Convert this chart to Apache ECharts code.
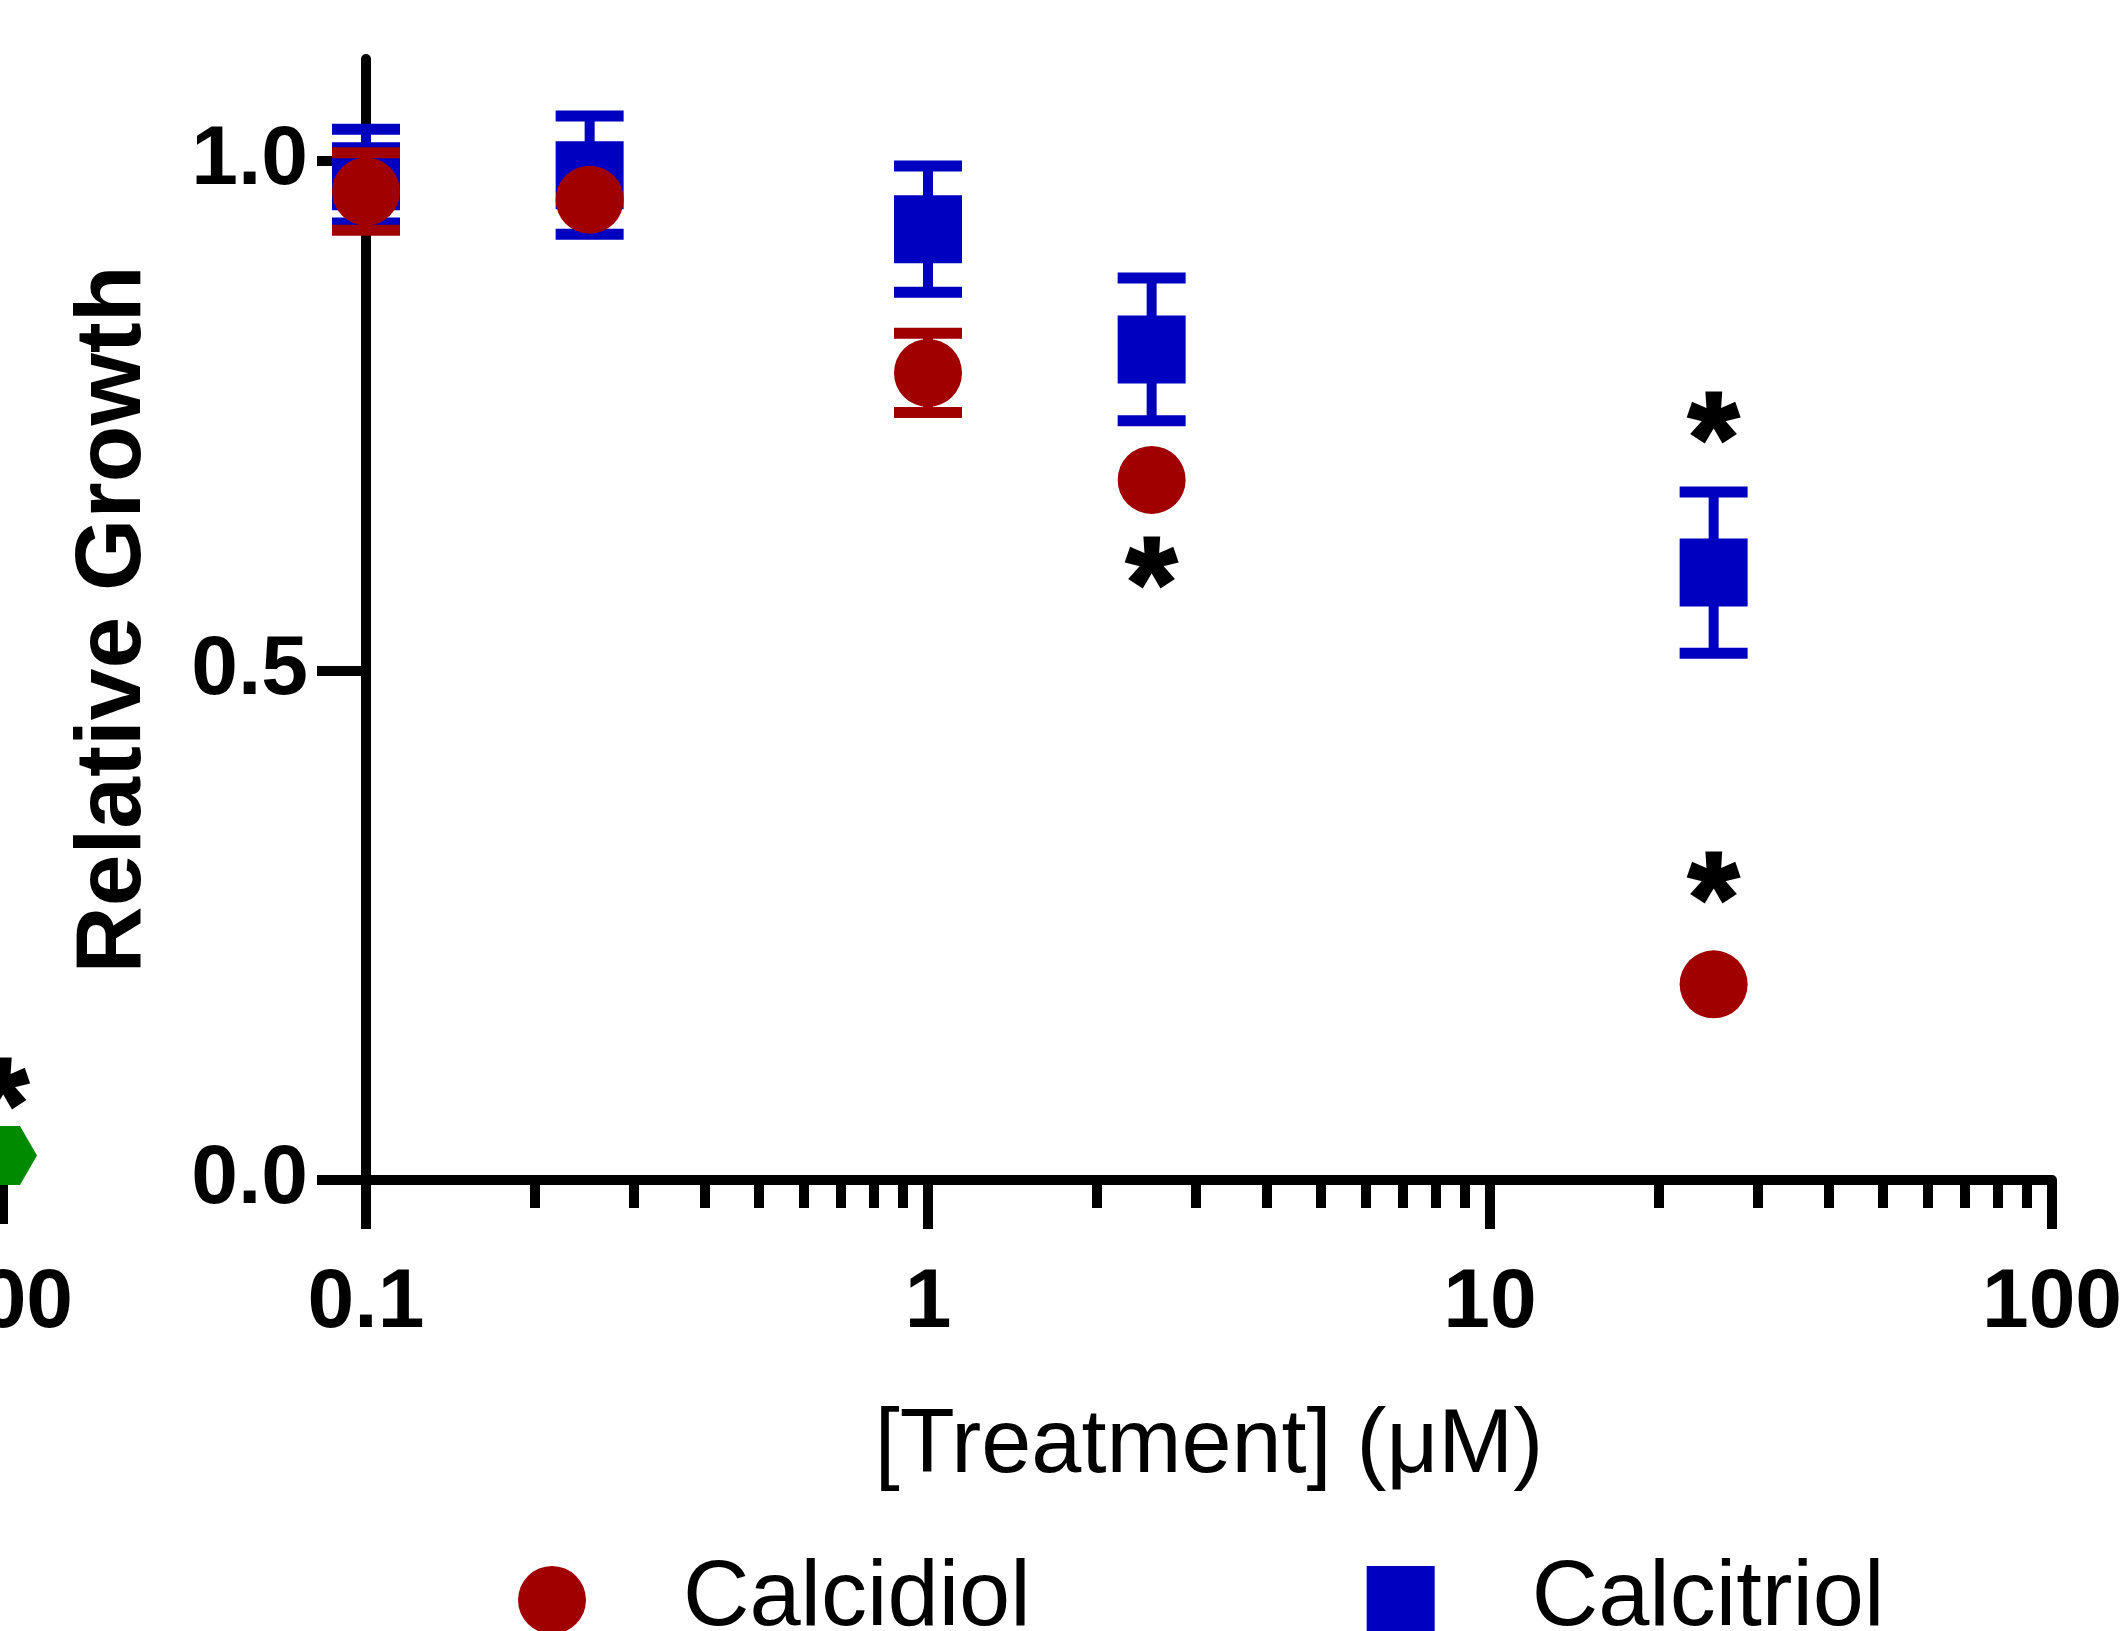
<!DOCTYPE html>
<html><head><meta charset="utf-8">
<script src="https://cdn.jsdelivr.net/npm/echarts@6/dist/echarts.min.js"></script>
<style>html,body{margin:0;padding:0;background:#fff}#c{width:2127px;height:1631px}</style>
</head><body><div id="c"></div>
<script>
// ---- data ----
const doses = [0.1, 0.25, 1, 2.5, 25];
const calcidiolMean = [0.970, 0.962, 0.792, 0.687, 0.192];
const calcidiolErr = [0.038, 0.015, 0.039, 0.015, 0.015];
const calcitriolMean = [0.985, 0.986, 0.933, 0.815, 0.596];
const calcitriolErr = [0.046, 0.058, 0.062, 0.070, 0.079];
const sigX = [2.5, 25, 25];
const sigY = [0.606, 0.749, 0.297];
const yTickValues = [0, 0.5, 1];
const xMinorTickValues = [0.2,0.3,0.4,0.5,0.6,0.7,0.8,0.9,2,3,4,5,6,7,8,9,20,30,40,50,60,70,80,90];
// fragment of the neighbouring panel (cut off at the left edge)
const otherX = [100];
const otherMean = [0.024];
const otherSigY = [0.095];

const RED = '#A00000', BLUE = '#0000C0', GREEN = '#008A00';
const FONT = 'Liberation Sans, Arial, sans-serif';
const SYM = 68;

function errRender(color) {
  return function (params, api) {
    const x = api.value(0), m = api.value(1), e = api.value(2);
    const c = api.coord([x, m]);
    const top = api.coord([x, m + e])[1];
    const bot = api.coord([x, m - e])[1];
    if (c[1] - top < SYM / 2) return { type: 'group', children: [] };
    const t = 11;
    return { type: 'group', children: [
      { type: 'rect', shape: { x: c[0] - 5, y: top, width: 10, height: bot - top }, style: { fill: color } },
      { type: 'rect', shape: { x: c[0] - SYM / 2, y: top - t / 2, width: SYM, height: t }, style: { fill: color } },
      { type: 'rect', shape: { x: c[0] - SYM / 2, y: bot - t / 2, width: SYM, height: t }, style: { fill: color } }
    ] };
  };
}

const axisFont = { fontFamily: FONT, fontWeight: 'bold', fontSize: 84, color: '#000' };
const starLabel = { show: true, formatter: '*', position: 'inside', offset: [0, 30],
  fontFamily: FONT, fontWeight: 'bold', fontSize: 130, color: '#000',
  textBorderColor: '#000', textBorderWidth: 3, opacity: 1 };

const chart = echarts.init(document.getElementById('c'), null, { renderer: 'canvas' });
chart.setOption({
  backgroundColor: '#fff',
  animation: false,
  grid: [
    { left: 366, width: 1686, top: 59, height: 1121, outerBoundsMode: 'none', containLabel: false },
    { left: 3 - 1686, width: 1686, top: 59, height: 1121, outerBoundsMode: 'none', containLabel: false }
  ],
  xAxis: [
    { type: 'log', gridIndex: 0, min: 0.1, max: 100, position: 'bottom',
      name: '[Treatment] (\u03bcM)', nameLocation: 'middle', nameGap: 222,
      nameTextStyle: { fontFamily: FONT, fontSize: 90, color: '#000' },
      axisLine: { lineStyle: { color: '#000', width: 10 } },
      axisTick: { length: 49, lineStyle: { color: '#000', width: 10 } },
      axisLabel: Object.assign({ margin: 82, formatter: v => String(v) }, axisFont),
      splitLine: { show: false }, minorTick: { show: false } },
    { type: 'log', gridIndex: 0, min: 0.1, max: 100, position: 'bottom',
      axisLine: { show: false },
      axisTick: { show: true, customValues: xMinorTickValues, length: 28, lineStyle: { color: '#000', width: 10 } },
      axisLabel: { show: false }, splitLine: { show: false } },
    { type: 'log', gridIndex: 1, min: 0.1, max: 100, position: 'bottom',
      axisLine: { lineStyle: { color: '#000', width: 10 } },
      axisTick: { length: 44, lineStyle: { color: '#000', width: 10 } },
      axisLabel: Object.assign({ margin: 82, formatter: v => String(v) }, axisFont),
      splitLine: { show: false } }
  ],
  yAxis: [
    { type: 'value', gridIndex: 0, min: 0, max: 1.1,
      name: 'Relative Growth', nameLocation: 'middle', nameRotate: 90, nameGap: 205,
      nameTextStyle: { fontFamily: FONT, fontWeight: 'bold', fontSize: 93, color: '#000' },
      axisLine: { show: true, lineStyle: { color: '#000', width: 10 } },
      axisTick: { show: true, customValues: yTickValues, length: 49, lineStyle: { color: '#000', width: 10 } },
      axisLabel: Object.assign({ customValues: yTickValues, margin: 58, formatter: v => v.toFixed(1) }, axisFont),
      splitLine: { show: false } },
    { type: 'value', gridIndex: 1, min: 0, max: 1.1, show: false }
  ],
  legend: {
    left: 513, top: 1549, itemWidth: 68, itemHeight: 68, itemGap: 336,
    data: [{ name: 'Calcidiol', icon: 'circle' }, { name: 'Calcitriol', icon: 'rect' }],
    textStyle: { fontFamily: FONT, fontSize: 92, color: '#000', padding: [0, 0, 0, 92] }
  },
  series: [
    { type: 'custom', name: 'Calcitriol', xAxisIndex: 0, yAxisIndex: 0, z: 2,
      renderItem: errRender(BLUE), itemStyle: { color: BLUE },
      encode: { x: 0, y: 1 },
      data: doses.map((d, i) => [d, calcitriolMean[i], calcitriolErr[i]]) },
    { type: 'scatter', name: 'Calcitriol', xAxisIndex: 0, yAxisIndex: 0, z: 3, clip: false,
      symbol: 'rect', symbolSize: SYM, itemStyle: { color: BLUE, opacity: 1 },
      data: doses.map((d, i) => [d, calcitriolMean[i]]) },
    { type: 'custom', name: 'Calcidiol', xAxisIndex: 0, yAxisIndex: 0, z: 4,
      renderItem: errRender(RED), itemStyle: { color: RED },
      encode: { x: 0, y: 1 },
      data: doses.map((d, i) => [d, calcidiolMean[i], calcidiolErr[i]]) },
    { type: 'scatter', name: 'Calcidiol', xAxisIndex: 0, yAxisIndex: 0, z: 5, clip: false,
      symbol: 'circle', symbolSize: SYM, itemStyle: { color: RED, opacity: 1 },
      data: doses.map((d, i) => [d, calcidiolMean[i]]) },
    { type: 'scatter', name: 'sig', xAxisIndex: 0, yAxisIndex: 0, z: 6, clip: false,
      symbolSize: 1, itemStyle: { color: 'rgba(0,0,0,0)' }, label: starLabel,
      data: sigX.map((x, i) => [x, sigY[i]]) },
    { type: 'scatter', name: 'other', xAxisIndex: 2, yAxisIndex: 1, z: 5, clip: false,
      symbol: 'path://M-1,0 L-0.5,-0.866 L0.5,-0.866 L1,0 L0.5,0.866 L-0.5,0.866 Z',
      symbolSize: [68, 59], itemStyle: { color: GREEN, opacity: 1 },
      data: otherX.map((x, i) => [x, otherMean[i]]) },
    { type: 'scatter', name: 'otherSig', xAxisIndex: 2, yAxisIndex: 1, z: 6, clip: false,
      symbolSize: 1, itemStyle: { color: 'rgba(0,0,0,0)' }, label: starLabel,
      data: otherX.map((x, i) => [x, otherSigY[i]]) }
  ]
});
</script></body></html>
